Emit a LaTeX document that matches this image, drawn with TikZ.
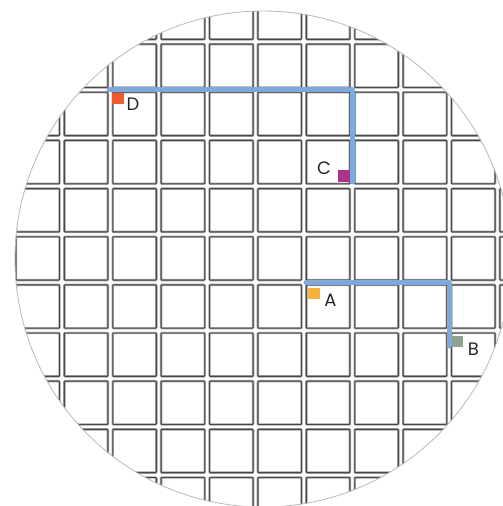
\documentclass[tikz,border=0pt]{standalone}
\usepackage{fontspec}
\setmainfont{Poppins}
\definecolor{routeblue}{HTML}{7FA8DC}
\definecolor{mkD}{HTML}{F15A2E}
\definecolor{mkC}{HTML}{A8358A}
\definecolor{mkA}{HTML}{F4B23A}
\definecolor{mkB}{HTML}{8FA290}
\begin{document}
\begin{tikzpicture}[x=1pt,y=-1pt,
  blockouter/.style={draw=black!38, line width=2.4pt, rounded corners=0.8pt},
  blockinner/.style={draw=black!72, line width=0.9pt, rounded corners=0.8pt},
  route/.style={draw=routeblue, line width=5pt, line cap=round, line join=round},
  marker/.style={minimum size=11.5pt, inner sep=0pt},
  lbl/.style={font=\fontsize{18}{18}\selectfont, text=black!85, inner sep=0pt},
  rim/.style={draw=black!28, line width=0.8pt}]
\useasboundingbox (0,0) rectangle (503,506);
\begin{scope}
  \clip (263,259) circle[radius=248pt];
  \foreach \i in {0,...,10}{
    \foreach \j in {-1,...,9}{
      \pgfmathsetmacro\xa{13.5+48.4*\i+2.4}
      \pgfmathsetmacro\xb{13.5+48.4*(\i+1)-2.4}
      \pgfmathsetmacro\ya{41.7+48.15*\j+2.4}
      \pgfmathsetmacro\yb{41.7+48.15*(\j+1)-2.4}
      \draw[blockouter] (\xa,\ya) rectangle (\xb,\yb);
      \draw[blockinner] (\xa,\ya) rectangle (\xb,\yb);
    }
  }
\end{scope}
\draw[rim] (263,259) circle[radius=248pt];
% routes
\coordinate (dstart) at (109,89.85);
\coordinate (dcorner) at (352.3,89.85);
\coordinate (cend) at (352.3,182);
\coordinate (astart) at (306,282.45);
\coordinate (acorner) at (449.1,282.45);
\coordinate (bend) at (449.1,346);
\draw[route] (dstart) -- (dcorner) -- (cend);
\draw[route] (astart) -- (acorner) -- (bend);
% markers
\node[marker, fill=mkD] (mD) at (117.8,98.7) {};
\node[marker, fill=mkC] (mC) at (344,176) {};
\node[marker, fill=mkA] (mA) at (314,293.5) {};
\node[marker, fill=mkB] (mB) at (457.3,341.3) {};
% labels
\node[lbl] (lD) at (133,104) {D};
\node[lbl] (lC) at (324,168.5) {C};
\node[lbl] (lA) at (330.5,300) {A};
\node[lbl] (lB) at (473.3,349) {B};
\end{tikzpicture}
\end{document}
